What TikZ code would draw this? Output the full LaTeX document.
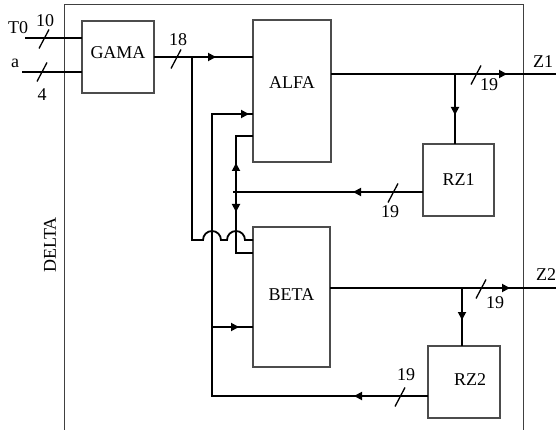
\documentclass[tikz,border=0pt]{standalone}
\usepackage{fontspec}
\setmainfont{Liberation Serif}
\usetikzlibrary{arrows.meta, calc, decorations.markings}

\begin{document}
\begin{tikzpicture}[
  x=1pt, y=-1pt,
  every node/.style={font=\fontsize{18}{20}\selectfont},
  block/.style={
    rectangle, draw=black!70, line width=1.2pt,
    outer sep=0pt, inner sep=0pt,
  },
  bus/.style={line width=1.8pt, draw=black},
  frame/.style={draw=black!75, line width=1pt},
  slash/.style={line width=1.3pt},
  tip at/.style={postaction={decorate, decoration={markings,
      mark=at position #1 with {\arrow{Triangle[length=8pt, width=8pt]}}}}},
]
  \useasboundingbox (0,0) rectangle (556,430);

  % outer frame
  \draw[frame] (64,430) |- (523,5) -- (523,430);
  \node[rotate=90] (delta) at (50,245) {DELTA};

  % blocks
  \node[block, minimum width=72pt, minimum height=72pt, label={[yshift=4pt]center:GAMA}] (gama) at (118,57) {};
  \node[block, minimum width=78pt, minimum height=142pt, label={[yshift=8pt]center:ALFA}] (alfa) at (292,91) {};
  \node[block, minimum width=77pt, minimum height=140pt, label={[yshift=2pt]center:BETA}] (beta) at (291.5,297) {};
  \node[block, minimum width=71pt, minimum height=72pt] (rz1) at (458.5,180) {RZ1};
  \node[block, minimum width=72pt, minimum height=72pt, label={[xshift=6pt, yshift=2pt]center:RZ2}] (rz2) at (464,382) {};

  % inputs
  \coordinate (t0) at (25,38);
  \coordinate (a) at (22,72);
  \node (t0lab) at (18,28) {T0};
  \node (alab) at (15,63) {a};
  \draw[bus] (t0) -- (gama.west |- t0);
  \draw[bus] (a) -- (gama.west |- a);

  % GAMA to ALFA, and over the hops to BETA
  \coordinate (j18) at (192,57);
  \coordinate (hop) at (192,240);
  \draw[bus, tip at=62pt] (gama.east) -- (alfa.west |- gama.east);
  \draw[bus] (j18) -- (hop) -- (203,240)
    arc[start angle=180, end angle=0, radius=9pt] -- (227,240)
    arc[start angle=180, end angle=0, radius=9pt] -- (beta.west |- hop);

  % RZ2 back to ALFA and BETA
  \coordinate (f2) at (212,396);
  \coordinate (c2) at (212,114);
  \coordinate (c3) at (212,327);
  \draw[bus, tip at=74pt, tip at=535pt] (rz2.west |- f2) -- (f2) -- (c2) -- (alfa.west |- c2);
  \draw[bus, tip at=27pt] (c3) -- (beta.west |- c3);

  % RZ1 back to ALFA and BETA
  \coordinate (c4) at (236,192);
  \coordinate (c5) at (236,136);
  \coordinate (c6) at (236,253);
  \draw[bus, tip at=70pt] (rz1.west |- c4) -- ++(-190,0);
  \draw[bus, tip at=29pt] (c4) -- (c5) -- (alfa.west |- c5);
  \draw[bus, tip at=20pt] (c4) -- (c6) -- (beta.west |- c6);

  % outputs
  \coordinate (z1) at (556,74);
  \coordinate (b1) at (455,74);
  \coordinate (z2) at (556,288);
  \coordinate (b2) at (462,288);
  \draw[bus, tip at=176pt] (alfa.east |- z1) -- (z1);
  \draw[bus, tip at=41pt] (b1) -- (b1 |- rz1.north);
  \draw[bus, tip at=180pt] (beta.east |- z2) -- (z2);
  \draw[bus, tip at=32pt] (b2) -- (b2 |- rz2.north);
  \node (z1lab) at (543,62) {Z1};
  \node (z2lab) at (546,275) {Z2};

  % bus widths
  \foreach \x/\y in {44/39, 42/72, 176/59, 476/75, 393/193, 481/289, 400/397}
    \draw[slash] (\x,\y) +(-5,9.5) -- +(5,-9.5);
  \node (w10) at (45,21) {10};
  \node (w4) at (42,95) {4};
  \node (w18) at (178,40) {18};
  \node (w19a) at (489,85) {19};
  \node (w19b) at (390,212) {19};
  \node (w19c) at (495,303) {19};
  \node (w19d) at (406,375) {19};
\end{tikzpicture}
\end{document}
